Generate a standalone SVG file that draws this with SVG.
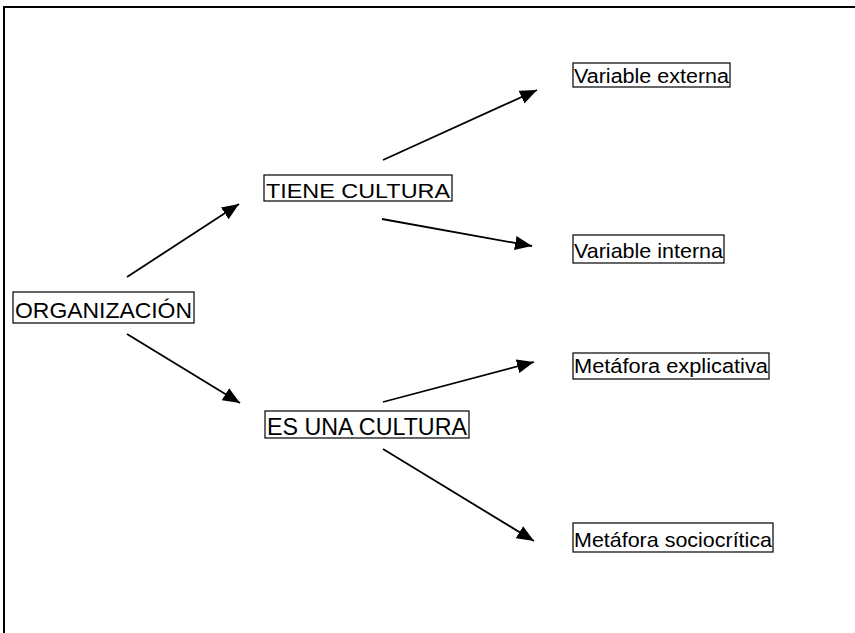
<svg xmlns="http://www.w3.org/2000/svg" width="855" height="633" viewBox="0 0 855 633">
<style>
.box{fill:#fff;stroke:#000;stroke-width:1.2}
.t{font-family:"Liberation Sans","DejaVu Sans",sans-serif;fill:#000}
.c{stroke:#000;stroke-width:1.8;fill:none;marker-end:url(#ah)}
.frame{stroke:#000;stroke-width:2;fill:none}
</style>
<defs>
<marker id="ah" markerUnits="userSpaceOnUse" markerWidth="18" markerHeight="16" viewBox="0 0 18 16" refX="17" refY="8" orient="auto">
<path d="M0,1 L17,8 L0,15 Z" fill="#000"/>
</marker>
</defs>
<rect width="855" height="633" fill="#fff"/>
<path class="frame" d="M4,633 L4,7 L855,7"/>
<g id="connectors">
<line class="c" x1="127" y1="277" x2="239" y2="204"/>
<line class="c" x1="127" y1="334" x2="240" y2="403"/>
<line class="c" x1="383" y1="160" x2="537" y2="90"/>
<line class="c" x1="382" y1="219" x2="532" y2="246"/>
<line class="c" x1="383" y1="402" x2="534" y2="362"/>
<line class="c" x1="383" y1="449" x2="534" y2="541"/>
</g>
<g id="organizacion">
<rect class="box" x="13" y="292" width="181" height="31"/>
<text class="t" x="15" y="318" font-size="22" textLength="177" lengthAdjust="spacingAndGlyphs">ORGANIZACIÓN</text>
</g>
<g id="tiene-cultura">
<rect class="box" x="264" y="175" width="188" height="26"/>
<text class="t" x="266" y="198" font-size="21" textLength="184" lengthAdjust="spacingAndGlyphs">TIENE CULTURA</text>
</g>
<g id="es-una-cultura">
<rect class="box" x="265" y="411" width="204" height="27"/>
<text class="t" x="267" y="435" font-size="23" textLength="200" lengthAdjust="spacingAndGlyphs">ES UNA CULTURA</text>
</g>
<g id="variable-externa">
<rect class="box" x="573" y="63" width="157" height="24"/>
<text class="t" x="574" y="83" font-size="20" textLength="155" lengthAdjust="spacingAndGlyphs">Variable externa</text>
</g>
<g id="variable-interna">
<rect class="box" x="573" y="235" width="151" height="28"/>
<text class="t" x="574" y="258" font-size="21" textLength="149" lengthAdjust="spacingAndGlyphs">Variable interna</text>
</g>
<g id="metafora-explicativa">
<rect class="box" x="573" y="353" width="196" height="26"/>
<text class="t" x="574" y="373" font-size="20" textLength="194" lengthAdjust="spacingAndGlyphs">Metáfora explicativa</text>
</g>
<g id="metafora-sociocritica">
<rect class="box" x="573" y="523" width="200" height="29"/>
<text class="t" x="574" y="547" font-size="21" textLength="198" lengthAdjust="spacingAndGlyphs">Metáfora sociocrítica</text>
</g>
</svg>
